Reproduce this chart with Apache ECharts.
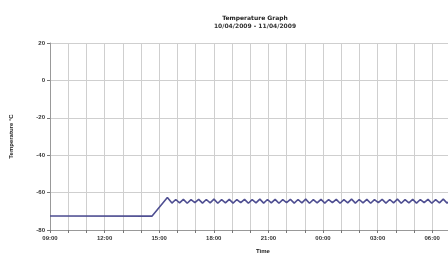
<!DOCTYPE html>
<html>
<head>
<meta charset="utf-8">
<script src="https://cdn.jsdelivr.net/npm/echarts@6/dist/echarts.min.js"></script>
<style>
    html, body { margin: 0; padding: 0; background: #fff; }
    #chart { width: 448px; height: 253px; }
</style>
</head>
<body>
<div id="chart"></div>
<script>
//Tick labels, one every 3 hours starting 09:00
const timeLabels = ['09:00', '12:00', '15:00', '18:00', '21:00', '00:00', '03:00', '06:00'];
const tempTicks = [20, 0, -20, -40, -60, -80];

//Hours since 09:00 and temperature readings (°C)
const hours = [
    0, 5.6, 6.45,
    6.70, 6.91, 7.12, 7.33, 7.54, 7.75, 7.96, 8.17, 8.38, 8.59, 8.80, 9.01, 9.22, 9.43, 9.64, 9.85,
    10.06, 10.27, 10.48, 10.69, 10.90, 11.11, 11.32, 11.53, 11.74, 11.95, 12.16, 12.37, 12.58, 12.79,
    13.00, 13.21, 13.42, 13.63, 13.84, 14.05, 14.26, 14.47, 14.68, 14.89, 15.10, 15.31, 15.52, 15.73,
    15.94, 16.15, 16.36, 16.57, 16.78, 16.99, 17.20, 17.41, 17.62, 17.83, 18.04, 18.25, 18.46, 18.67,
    18.88, 19.09, 19.30, 19.51, 19.72, 19.93, 20.14, 20.35, 20.56, 20.77, 20.98, 21.19, 21.40, 21.61,
    21.82, 22.03
];
const temps = [
    -72.5, -72.6, -62.6,
    -65.6, -63.7, -65.5, -63.6, -65.7, -63.8, -65.4, -63.6, -65.6, -63.7, -65.5, -63.5, -65.7, -63.8, -65.5, -63.6,
    -65.6, -63.7, -65.4, -63.6, -65.7, -63.8, -65.5, -63.5, -65.6, -63.7, -65.5, -63.6, -65.7, -63.8,
    -65.4, -63.6, -65.6, -63.7, -65.5, -63.5, -65.7, -63.8, -65.5, -63.6, -65.6, -63.7, -65.4, -63.6,
    -65.7, -63.8, -65.5, -63.5, -65.6, -63.7, -65.5, -63.6, -65.7, -63.8, -65.4, -63.6, -65.6, -63.7,
    -65.5, -63.5, -65.7, -63.8, -65.5, -63.6, -65.6, -63.7, -65.4, -63.6, -65.7, -63.8, -65.5, -63.5,
    -65.6, -63.7
];

function draw_temp_chart() {
    let chart = echarts.init(document.getElementById('chart'), null, { renderer: 'canvas' });
    let points = hours.map((h, i) => [h, temps[i]]);
    let option = {
        animation: false,
        backgroundColor: '#ffffff',
        title: {
            text: 'Temperature Graph',
            subtext: '10/04/2009 - 11/04/2009',
            left: 250,
            top: 10,
            textAlign: 'center',
            itemGap: 2,
            textStyle: { fontSize: 6, fontWeight: 'bold', color: '#222', fontFamily: 'DejaVu Sans' },
            subtextStyle: { fontSize: 6, fontWeight: 'bold', color: '#333', fontFamily: 'DejaVu Sans' }
        },
        grid: {
            left: 50,
            right: 0,
            top: 43,
            bottom: 23,
            outerBoundsMode: 'none'
        },
        xAxis: {
            type: 'value',
            min: 0,
            max: 21.87,
            interval: 1,
            name: 'Time',
            nameLocation: 'middle',
            nameGap: 18,
            nameTextStyle: { fontSize: 6, fontWeight: 'bold', color: '#222', padding: [0, 0, 0, 28] },
            axisLine: { onZero: false, lineStyle: { color: '#999', width: 1 } },
            axisTick: {
                length: 3,
                lineStyle: { color: '#777' },
                interval: (i, v) => v % 3 === 0
            },
            axisLabel: {
                fontSize: 6,
                fontWeight: 'bold',
                color: '#333',
                margin: 5,
                showMaxLabel: false,
                formatter: function (v) {
                    return v % 3 === 0 ? (timeLabels[v / 3] || '') : '';
                }
            },
            splitLine: { show: true, lineStyle: { color: '#cfcfcf', width: 1 } }
        },
        yAxis: {
            type: 'value',
            min: tempTicks[tempTicks.length - 1],
            max: tempTicks[0],
            interval: 20,
            name: 'Temperature °C',
            nameLocation: 'middle',
            nameGap: 36,
            nameTextStyle: { fontSize: 6, fontWeight: 'bold', color: '#222' },
            axisLine: { show: true, lineStyle: { color: '#999', width: 1 } },
            axisTick: { show: true, length: 3, lineStyle: { color: '#777' } },
            axisLabel: { fontSize: 6, fontWeight: 'bold', color: '#333', margin: 5 },
            splitLine: { show: true, lineStyle: { color: '#cfcfcf', width: 1 } }
        },
        series: [
            {
                type: 'line',
                data: points,
                symbol: 'none',
                lineStyle: { color: '#4f4f92', width: 1.6 }
            }
        ]
    };
    chart.setOption(option);
}

draw_temp_chart();
</script>
</body>
</html>
